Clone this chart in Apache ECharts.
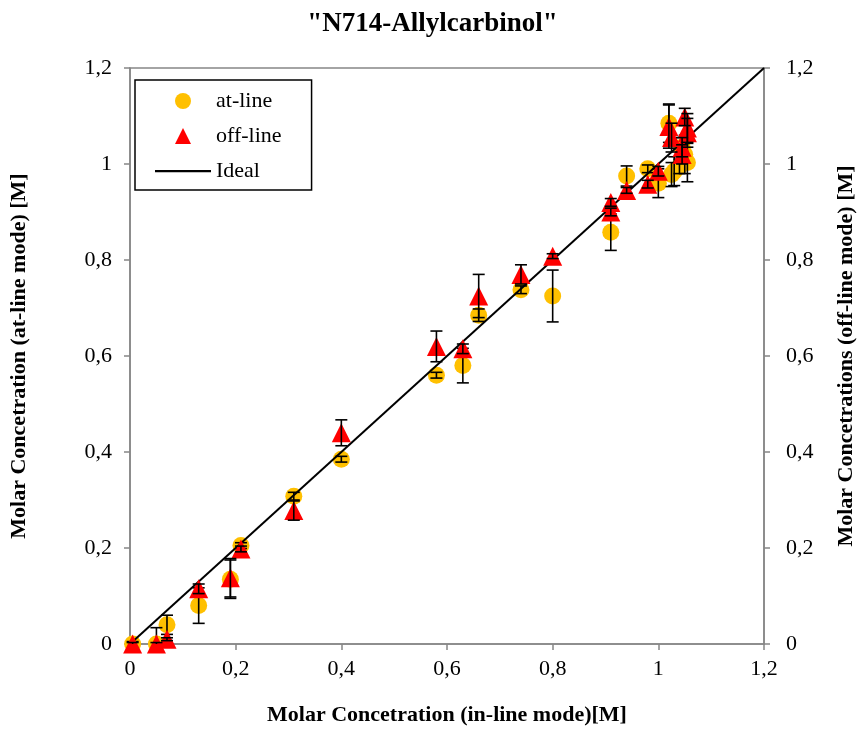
<!DOCTYPE html>
<html>
<head>
<meta charset="utf-8">
<script src="https://cdn.jsdelivr.net/npm/echarts@6/dist/echarts.min.js"></script>
<style>
html,body{margin:0;padding:0;background:#fff;}
#chart{width:865px;height:735px;}
</style>
</head>
<body>
<div id="chart"></div>
<script>
// at-line series
var atX   = [0.005, 0.05, 0.07, 0.13, 0.19, 0.21, 0.31, 0.40, 0.58, 0.63, 0.66, 0.74, 0.80, 0.91, 0.94, 0.98, 1.00, 1.02, 1.025, 1.03, 1.04, 1.045, 1.05, 1.055];
var atY   = [0.000, 0.000, 0.040, 0.080, 0.135, 0.205, 0.308, 0.385, 0.560, 0.580, 0.685, 0.738, 0.725, 0.858, 0.975, 0.990, 0.960, 1.085, 0.978, 0.985, 0.995, 1.035, 1.020, 1.003];
var atErr = [0.005, 0.034, 0.020, 0.037, 0.040, 0.006, 0.008, 0.006, 0.006, 0.036, 0.013, 0.008, 0.054, 0.038, 0.021, 0.008, 0.030, 0.040, 0.025, 0.030, 0.015, 0.020, 0.040, 0.040];
// off-line series
var offX   = [0.005, 0.05, 0.07, 0.13, 0.19, 0.21, 0.31, 0.40, 0.58, 0.63, 0.66, 0.74, 0.80, 0.91, 0.91, 0.94, 0.98, 1.00, 1.02, 1.025, 1.045, 1.045, 1.05, 1.055, 1.055];
var offY   = [0.000, 0.000, 0.010, 0.115, 0.138, 0.198, 0.278, 0.440, 0.620, 0.615, 0.725, 0.770, 0.808, 0.920, 0.900, 0.945, 0.958, 0.985, 1.078, 1.055, 1.035, 1.020, 1.098, 1.075, 1.065];
var offErr = [0.003, 0.003, 0.003, 0.010, 0.040, 0.006, 0.020, 0.027, 0.032, 0.010, 0.045, 0.020, 0.005, 0.008, 0.008, 0.006, 0.008, 0.010, 0.045, 0.030, 0.020, 0.020, 0.018, 0.030, 0.030];
// ideal line
var idealX = [0, 1.2];
var idealY = [0, 1.2];
var tickMin = 0, tickMax = 1.2, tickStep = 0.2;

function pairs(xs, ys){ return xs.map(function(x,i){return [x, ys[i]];}); }
function errData(xs, ys, es){ return xs.map(function(x,i){return [x, ys[i]-es[i], ys[i]+es[i]];}); }
function fmt(v){ return String(Math.round(v*10)/10).replace('.', ','); }
function errRender(params, api){
  var x = api.value(0), lo = Math.max(api.value(1), 0), hi = api.value(2);
  var pLo = api.coord([x, lo]), pHi = api.coord([x, hi]);
  var cw = 6;
  var st = {stroke:'#000', lineWidth:1.6};
  var kids = [
    {type:'line', shape:{x1:pLo[0], y1:pLo[1], x2:pHi[0], y2:pHi[1]}, style:st},
    {type:'line', shape:{x1:pHi[0]-cw, y1:pHi[1], x2:pHi[0]+cw, y2:pHi[1]}, style:st}
  ];
  if (api.value(1) >= 0) kids.push({type:'line', shape:{x1:pLo[0]-cw, y1:pLo[1], x2:pLo[0]+cw, y2:pLo[1]}, style:st});
  return {type:'group', children:kids};
}

var FONT = '"Liberation Serif","Times New Roman",serif';
var chart = echarts.init(document.getElementById('chart'));
var axisLineStyle = {color:'#868686', width:1.5};
var triIcon = 'path://M0,0 M56,16 M20,16 L28,0 L36,16 Z';
var lineIcon = 'path://M0,0 M56,16 M0,7 L56,7 L56,9.2 L0,9.2 Z';
chart.setOption({
  animation:false,
  backgroundColor:'#fff',
  title:{text:'"N714-Allylcarbinol"', left:'center', top:6,
    textStyle:{fontFamily:FONT, fontWeight:'bold', fontSize:27, color:'#000'}},
  grid:{left:128, right:99, top:68, bottom:91, show:true, borderColor:'#868686', borderWidth:1.5, containLabel:false},
  legend:{
    left:135, top:80, orient:'vertical', backgroundColor:'#fff',
    borderColor:'#000', borderWidth:1.5, padding:[10,30,8,20], itemGap:13,
    itemWidth:56, itemHeight:16,
    textStyle:{fontFamily:FONT, fontSize:22, color:'#000'},
    data:[{name:'at-line', icon:'circle'},{name:'off-line', icon:triIcon},{name:'Ideal', icon:lineIcon, itemStyle:{color:'#000'}}]
  },
  xAxis:{type:'value', min:tickMin, max:tickMax, interval:tickStep,
    name:'Molar Concetration (in-line mode)[M]', nameLocation:'middle', nameGap:60,
    nameTextStyle:{fontFamily:FONT, fontWeight:'bold', fontSize:22, color:'#000'},
    axisLine:{show:true, lineStyle:axisLineStyle}, axisTick:{show:true, inside:false, length:6, lineStyle:axisLineStyle},
    axisLabel:{formatter:fmt, fontFamily:FONT, fontSize:22, color:'#000', margin:14},
    splitLine:{show:false}},
  yAxis:[
    {type:'value', min:tickMin, max:tickMax, interval:tickStep, position:'left',
     name:'Molar Concetration (at-line mode) [M]', nameLocation:'middle', nameGap:100,
     nameTextStyle:{fontFamily:FONT, fontWeight:'bold', fontSize:22, color:'#000'},
     axisLine:{show:true, lineStyle:axisLineStyle}, axisTick:{show:true, inside:false, length:6, lineStyle:axisLineStyle},
     axisLabel:{formatter:fmt, fontFamily:FONT, fontSize:22, color:'#000', margin:18},
     splitLine:{show:false}},
    {type:'value', min:tickMin, max:tickMax, interval:tickStep, position:'right',
     name:'Molar Concetrations (off-line mode) [M]', nameLocation:'middle', nameGap:71, nameRotate:90,
     nameTextStyle:{fontFamily:FONT, fontWeight:'bold', fontSize:22, color:'#000'},
     axisLine:{show:true, lineStyle:axisLineStyle}, axisTick:{show:true, inside:false, length:6, lineStyle:axisLineStyle},
     axisLabel:{formatter:fmt, fontFamily:FONT, fontSize:22, color:'#000', margin:22},
     splitLine:{show:false}}
  ],
  series:[
    {name:'at-line', type:'scatter', symbol:'circle', symbolSize:17, z:2,
     itemStyle:{color:'#FFC000', opacity:1}, data:pairs(atX, atY)},
    {name:'at-line-err', type:'custom', renderItem:errRender, z:3, data:errData(atX, atY, atErr), encode:{x:0, y:[1,2]}},
    {name:'Ideal', type:'line', symbol:'none', showSymbol:false, z:4, lineStyle:{color:'#000', width:2}, itemStyle:{color:'#000'},
     data:pairs(idealX, idealY)},
    {name:'off-line', type:'scatter', symbol:'triangle', symbolSize:19, z:5,
     itemStyle:{color:'#FF0000', opacity:1}, data:pairs(offX, offY)},
    {name:'off-line-err', type:'custom', renderItem:errRender, z:6, data:errData(offX, offY, offErr), encode:{x:0, y:[1,2]}}
  ]
});
</script>
</body>
</html>
